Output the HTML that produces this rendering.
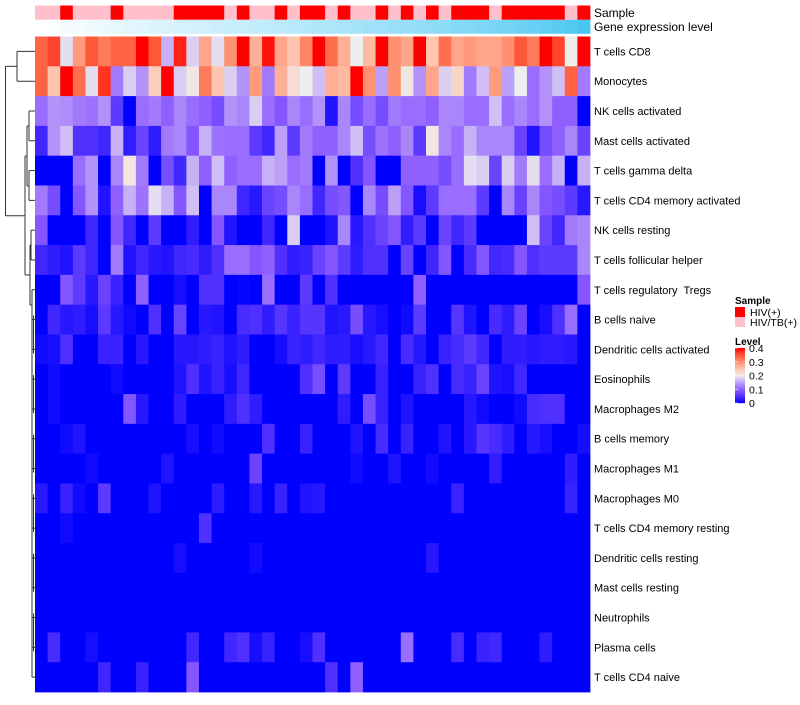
<!DOCTYPE html>
<html><head><meta charset="utf-8"><style>
body{margin:0;background:#fff;width:800px;height:700px;overflow:hidden;font-family:"Liberation Sans",sans-serif}
svg text{font-family:"Liberation Sans",sans-serif;fill:#000;white-space:pre}
</style></head><body>
<svg id="chart" width="800" height="700" viewBox="0 0 800 700" xmlns="http://www.w3.org/2000/svg" xml:space="preserve"></svg>
<script>
const rowLabels=["T cells CD8","Monocytes","NK cells activated","Mast cells activated","T cells gamma delta","T cells CD4 memory activated","NK cells resting","T cells follicular helper","T cells regulatory  Tregs","B cells naive","Dendritic cells activated","Eosinophils","Macrophages M2","B cells memory","Macrophages M1","Macrophages M0","T cells CD4 memory resting","Dendritic cells resting","Mast cells resting","Neutrophils","Plasma cells","T cells CD4 naive"];
const sampleGroups=["P","P","R","P","P","P","R","P","P","P","P","R","R","R","R","P","R","P","P","R","P","R","R","P","R","P","P","R","P","R","P","R","P","R","R","R","P","R","R","R","R","R","P","R"];
const geneExpr=[0,0.02,0.05,0.07,0.09,0.11,0.13,0.15,0.17,0.19,0.21,0.22,0.24,0.26,0.28,0.3,0.31,0.33,0.35,0.37,0.39,0.41,0.43,0.45,0.47,0.49,0.51,0.53,0.55,0.57,0.59,0.61,0.63,0.66,0.68,0.7,0.73,0.76,0.79,0.82,0.86,0.9,0.95,1];
const legendTicks=[0,0.1,0.2,0.3,0.4];
const r0=[.34,.36,.19,.29,.35,.32,.34,.34,.4,.35,.16,.38,.18,.28,.19,.3,.4,.27,.39,.28,.25,.31,.4,.33,.27,.2,.26,.4,.3,.28,.4,.25,.33,.28,.29,.28,.28,.3,.35,.32,.4,.36,.2,.4];
const r1=[.34,.25,.4,.33,.19,.37,.12,.18,.14,.24,.4,.18,.21,.32,.25,.18,.14,.29,.12,.27,.22,.2,.17,.27,.26,.4,.3,.15,.3,.21,.14,.28,.18,.23,.12,.17,.29,.15,.2,.11,.14,.17,.34,.12];
const r2=[.11,.14,.135,.12,.115,.14,.06,0,.11,.12,.1,.13,.11,.1,.08,.14,.13,.18,.11,.09,.13,.11,.14,.02,.13,.08,.11,.08,.12,.11,.11,.1,.13,.13,.11,.11,.17,.11,.13,.11,.14,.1,.1,0];
const r3=[.04,.14,.17,.05,.05,.04,.16,.03,.07,.03,.12,.13,.09,.16,.115,.11,.11,.06,.04,.15,.06,.12,.1,.1,.13,.17,.08,.115,.1,.13,.06,.21,.13,.11,.16,.13,.13,.13,.07,.02,.08,.1,.13,.07];
const r4=[0,0,0,.11,.14,0,.13,.21,.12,0,.08,.04,.16,.1,.17,.1,.11,.11,.16,.15,.11,.12,0,.14,0,.05,.09,0,0,.1,.1,.1,.08,.11,.19,.18,.07,.18,.12,.19,.11,.16,0,.16];
const r5=[.12,.08,0,.09,.14,.02,.1,.16,.115,.19,.16,.09,.17,0,.13,.13,.04,.025,.07,.08,.13,.11,.04,.08,.09,0,.13,.08,.15,.09,.015,.06,.11,.11,.11,.06,0,.13,.07,.13,.09,.08,.06,.025];
const r6=[.09,0,0,0,.04,0,.09,.04,0,.06,0,0,.03,0,.09,.02,0,0,.04,0,.18,0,0,.02,.13,.025,.05,.07,.09,.03,.06,0,.07,.04,.06,0,0,0,0,.17,.07,.04,.12,.13];
const r7=[.04,.03,.02,.06,.04,0,.12,.02,.04,.025,.02,.04,.045,.03,.05,.11,.11,.09,.1,.05,.03,.035,.07,.09,.06,.03,.05,.05,0,.07,0,.04,.09,0,.045,.09,.04,.045,.09,.05,.06,.06,.06,.13];
const r8=[0,0,.09,.06,.025,.07,.035,0,.1,0,0,.015,0,.05,.05,0,.005,0,.11,0,0,.06,0,.05,0,0,0,0,0,0,.1,0,0,0,0,0,0,0,0,0,0,0,0,.09];
const r9=[0,.04,.025,.03,.015,.06,.025,.01,0,.05,0,.07,0,.025,.02,0,.045,.05,.03,.055,.035,.055,.055,.02,.025,.08,.025,.015,0,.01,.06,0,0,.055,.02,0,.045,.03,.07,0,.015,.05,.11,0];
const r10=[.01,.015,.05,0,0,.035,.035,0,.025,0,0,.025,.025,.03,.035,.02,.03,0,0,.015,.035,.03,.04,.03,.03,.015,.025,.04,0,.045,.025,0,.035,.045,.06,.04,0,.03,.03,.025,.03,.03,.025,0];
const r11=[0,.01,0,0,0,0,.01,0,0,0,0,.02,.05,.02,.035,.015,.04,0,0,0,0,.05,.08,0,.06,0,0,.035,0,0,.035,.05,0,.045,.035,.07,.02,.015,.04,0,0,0,0,0];
const r12=[0,.01,0,0,0,0,0,.09,.025,0,0,.03,0,0,0,.03,.05,.03,0,0,0,0,0,0,.03,0,.08,.035,0,.02,0,0,0,0,.025,.01,0,0,.01,.045,.05,.05,0,0];
const r13=[0,0,.01,.02,0,0,0,0,0,0,0,0,.015,0,.01,0,0,0,.05,0,0,.035,0,0,0,.02,0,.045,0,.035,0,0,.02,0,.025,.055,.045,.03,0,.025,.015,0,0,.015];
const r14=[0,0,0,0,.01,0,0,0,0,0,.02,0,0,0,0,0,0,.07,0,0,0,0,0,0,0,.01,0,0,.02,0,0,.01,0,0,0,0,.03,0,0,0,0,0,.03,0];
const r15=[.025,0,.035,.01,0,.06,0,0,0,.02,0,0,0,0,.03,0,0,.025,0,.035,0,.02,.025,0,0,0,0,0,0,0,0,0,0,.035,0,0,0,0,0,0,0,0,.035,0];
const r16=[0,0,.01,0,0,0,0,0,0,0,0,0,0,.05,0,0,0,0,0,0,0,0,0,0,0,0,0,0,0,0,0,0,0,0,0,0,0,0,0,0,0,0,0,0];
const r17=[0,0,0,0,0,0,0,0,0,0,0,.015,0,0,0,0,0,.01,0,0,0,0,0,0,0,0,0,0,0,0,0,.025,0,0,0,0,0,0,0,0,0,0,0,0];
const r18=[0,0,0,0,0,0,0,0,0,0,0,0,0,0,0,0,0,0,0,0,0,0,0,0,0,0,0,0,0,0,0,0,0,0,0,0,0,0,0,0,0,0,0,0];
const r19=[0,0,0,0,0,0,0,0,0,0,0,0,0,0,0,0,0,0,0,0,0,0,0,0,0,0,0,0,0,0,0,0,0,0,0,0,0,0,0,0,0,0,0,0];
const r20=[0,.045,0,0,.015,0,0,0,0,0,0,0,.04,0,0,.04,.05,.015,.035,0,0,.015,.05,0,0,0,0,0,0,.11,0,0,0,.045,0,.035,.04,0,0,0,.03,0,0,0];
const r21=[0,0,0,0,0,.04,0,0,.035,0,0,0,.09,0,0,0,0,0,0,0,0,0,0,.05,0,.1,0,0,0,0,0,0,0,0,0,0,0,0,0,0,0,0,0,0];
const values=[r0,r1,r2,r3,r4,r5,r6,r7,r8,r9,r10,r11,r12,r13,r14,r15,r16,r17,r18,r19,r20,r21];

const NS="http://www.w3.org/2000/svg";
const svg=document.getElementById("chart");
const X0=35,X1=590,Y0=36.5,Y1=692;
const nC=sampleGroups.length,nR=rowLabels.length;
const cw=(X1-X0)/nC,rh=(Y1-Y0)/nR;
const xAt=c=>X0+c*cw, yAt=r=>Y0+r*rh;
const stops=[[0,[0,0,255]],[0.05,[80,48,255]],[0.1,[144,96,255]],[0.15,[188,160,248]],[0.2,[238,238,238]],[0.25,[255,196,176]],[0.3,[255,144,112]],[0.35,[255,88,56]],[0.4,[255,0,0]]];
function col(v){v=Math.max(0,Math.min(0.4,v));for(let i=1;i<stops.length;i++){if(v<=stops[i][0]){const[a,ca]=stops[i-1],[b,cb]=stops[i];const t=(v-a)/(b-a);return"rgb("+ca.map((x,k)=>Math.round(x+(cb[k]-x)*t)).join(",")+")";}}return"rgb(255,0,0)";}
function geneCol(t){const a=[255,255,255],b=[72,198,242];return"rgb("+a.map((x,k)=>Math.round(x+(b[k]-x)*t)).join(",")+")";}
function mk(tag,attrs,parent){const e=document.createElementNS(NS,tag);for(const k in attrs)e.setAttribute(k,attrs[k]);(parent||svg).appendChild(e);return e;}

const gS=mk("g",{});


sampleGroups.forEach((s,c)=>{const e=mk("rect",{x:xAt(c),y:5.5,width:cw+0.4,height:14.3,fill:s==="R"?"#FF0000":"#FFC0CB"},gS);

});
const gG=mk("g",{});


geneExpr.forEach((g,c)=>{const e=mk("rect",{x:xAt(c),y:19.8,width:cw+0.4,height:14,fill:geneCol(g)},gG);

});
let t=mk("text",{x:594,y:17,"font-size":12});t.textContent="Sample";


t=mk("text",{x:594,y:31,"font-size":12});t.textContent="Gene expression level";



const gH=mk("g",{});


values.forEach((row,r)=>{row.forEach((v,c)=>{const e=mk("rect",{x:xAt(c),y:yAt(r),width:cw+0.4,height:rh+0.4,fill:col(v)},gH);

});
const l=mk("text",{x:594,y:yAt(r)+rh/2+4,"font-size":11});l.textContent=rowLabels[r];

});

const yc=r=>yAt(r)+rh/2;
const gD=mk("g",{stroke:"#333","stroke-width":1,fill:"none"});


const segs=[[5.5,66.3,5.5,215.7],[5.5,66.3,17,66.3],[5.5,215.7,25,215.7],[17,yc(0),17,yc(1)],[17,yc(0),35,yc(0)],[17,yc(1),35,yc(1)],
[25,156,25,275],[25,156,27,156],[25,275,30,275],[27,126,27,186],[27,126,29,126],[27,186,29,186],
[29,yc(2),29,yc(3)],[29,yc(2),35,yc(2)],[29,yc(3),35,yc(3)],[29,yc(4),29,yc(5)],[29,yc(4),35,yc(4)],[29,yc(5),35,yc(5)],
[30,245,30,305],[30,245,31,245],[31,yc(6),31,yc(7)],[31,yc(6),35,yc(6)],[31,yc(7),35,yc(7)],[30,305,32,305],[32,yc(8),32,yc(21)]];
for(let r=8;r<22;r++)segs.push([32,yc(r),35,yc(r)]);
for(let r=9;r<21;r+=2)segs.push([33.5,yc(r)-4,33.5,yc(r+1)+4]);
segs.forEach(s=>{const e=mk("line",{x1:s[0],y1:s[1],x2:s[2],y2:s[3]},gD);

});

const gL=mk("g",{});


t=mk("text",{x:735,y:304,"font-size":10,"font-weight":"bold"},gL);t.textContent="Sample";


[["#FF0000","HIV(+)"],["#FFC0CB","HIV/TB(+)"]].forEach((d,i)=>{const r=mk("rect",{x:735,y:307+i*10,width:10,height:10,fill:d[0]},gL);


const tx=mk("text",{x:750,y:316+i*10,"font-size":10.5},gL);tx.textContent=d[1];

});
t=mk("text",{x:735,y:345,"font-size":10,"font-weight":"bold"},gL);t.textContent="Level";


const LB0=403,LB1=348;
const ly=v=>LB0+(LB1-LB0)*v/0.4;
for(let i=0;i<55;i++){const v=0.4*(i+0.5)/55;const e=mk("rect",{x:735,y:ly(v)-0.6,width:10,height:1.3,fill:col(v)},gL);

}
legendTicks.forEach(v=>{const tx=mk("text",{x:749,y:ly(v)+4,"font-size":10.5},gL);tx.textContent=String(v);


const tk=mk("line",{x1:735,x2:738,y1:ly(v),y2:ly(v),stroke:"#fff","stroke-width":0.6},gL);

});
</script>
</body></html>
